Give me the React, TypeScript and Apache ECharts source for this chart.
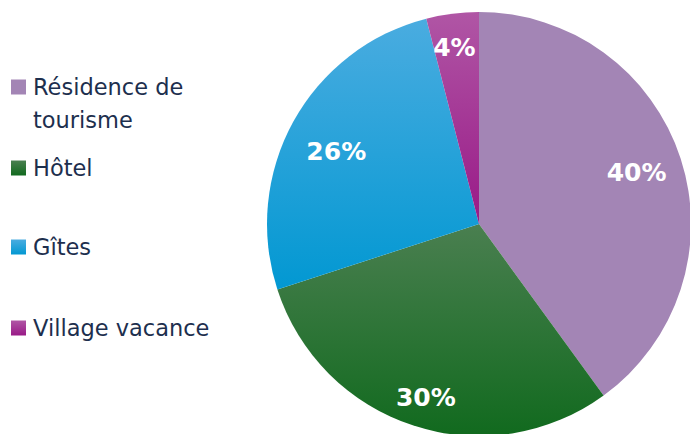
import React, { useEffect, useRef } from "react";
import * as echarts from "echarts";

const categories = ["Résidence de tourisme", "Hôtel", "Gîtes", "Village vacance"];
const values = [40, 30, 26, 4];
const labels = ["40%", "30%", "26%", "4%"];

const grad = (top: string, bottom: string) =>
  new echarts.graphic.LinearGradient(0, 0, 0, 1, [
    { offset: 0, color: top },
    { offset: 1, color: bottom },
  ]);

const colors = [
  "#A385B5",
  grad("#4A7F50", "#116A1E"),
  grad("#4AACE0", "#0298D2"),
  grad("#B056A5", "#991A87"),
];

const labelOffsets = [
  [-6, 2],
  [0, 10],
  [8, 10],
  [-3, -6],
];

export default function App() {
  const ref = useRef<HTMLDivElement>(null);
  useEffect(() => {
    if (!ref.current) return;
    const chart = echarts.init(ref.current, undefined, { renderer: "svg" });
    const textColor = "#1D2F4E";
    const font = "DejaVu Sans";
    const legendTops = [37.5, 156, 235, 316];
    const legends = categories.map((name, i) => ({
      data: [name],
      left: 11,
      top: legendTops[i],
      padding: 0,
      orient: "vertical" as const,
      icon: "rect",
      itemWidth: 15,
      itemHeight: 15,
      selectedMode: false,
      formatter: (n: string) => (n === "Résidence de tourisme" ? "\nRésidence de\ntourisme" : n),
      textStyle: {
        color: textColor,
        fontFamily: font,
        fontSize: 22.5,
        lineHeight: i === 0 ? 33 : 24,
        padding: [0, 0, 0, 2],
      },
    }));
    chart.setOption({
      animation: false,
      backgroundColor: "#FFFFFF",
      legend: legends,
      series: [
        {
          type: "pie",
          center: [479, 224],
          radius: [0, 212],
          startAngle: 90,
          clockwise: true,
          silent: true,
          label: { show: false },
          labelLine: { show: false },
          itemStyle: { borderWidth: 0 },
          data: categories.map((name, i) => ({
            name,
            value: values[i],
            itemStyle: { color: colors[i] },
          })),
        },
        {
          type: "pie",
          center: [479, 224],
          radius: [126, 212],
          startAngle: 90,
          clockwise: true,
          silent: true,
          labelLine: { show: false },
          itemStyle: { color: "rgba(0,0,0,0)", borderWidth: 0 },
          label: {
            show: true,
            position: "inside",
            color: "#FFFFFF",
            fontFamily: font,
            fontWeight: "bold",
            fontSize: 25,
            formatter: (p: any) => labels[p.dataIndex],
          },
          data: categories.map((name, i) => ({
            name,
            value: values[i],
            label: { offset: labelOffsets[i] },
          })),
        },
      ],
    });
    return () => chart.dispose();
  }, []);
  return <div ref={ref} style={{ width: 690, height: 434, position: "absolute", left: 0, top: 0 }} />;
}
